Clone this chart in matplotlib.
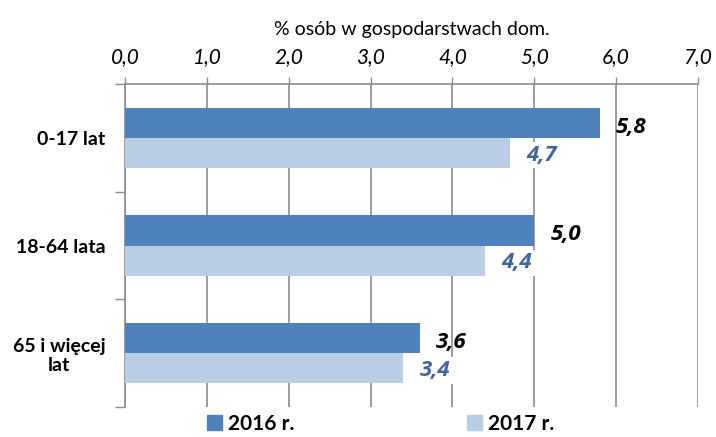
import numpy as np
import matplotlib.pyplot as plt
from matplotlib.patches import Patch
from matplotlib.font_manager import FontProperties

plt.rcParams['font.family'] = ['Lato', 'DejaVu Sans']

# Data
categories = ['0-17 lat', '18-64 lata', '65 i więcej\nlat']
series_names = ['2016 r.', '2017 r.']
values_2016 = [5.8, 5.0, 3.6]
values_2017 = [4.7, 4.4, 3.4]
xticks = [0, 1, 2, 3, 4, 5, 6, 7]

c2016 = '#4F81BD'
c2017 = '#B9CDE5'
grid_c = '#8C8C8C'
lab_font = ['Open Sans', 'DejaVu Sans']

fig = plt.figure(figsize=(7.16, 4.37), dpi=100)
ax = fig.add_axes([0.1746, 0.0686, 0.8003, 0.7392])

y = np.arange(len(categories))
h = 0.279
ax.barh(y - h / 2, values_2016, height=h, color=c2016, zorder=3)
ax.barh(y + h / 2, values_2017, height=h, color=c2017, zorder=3)

for yi, v in zip(y, values_2016):
    ax.text(v + 0.2, yi - h / 2 + 0.04, f'{v:.1f}'.replace('.', ','), ha='left', va='center',
            fontsize=16, fontweight='bold', style='italic', color='black', zorder=5,
            family=lab_font)
for yi, v in zip(y, values_2017):
    ax.text(v + 0.2, yi + h / 2 + 0.02, f'{v:.1f}'.replace('.', ','), ha='left', va='center',
            fontsize=16, fontweight='bold', style='italic', color='#41679F', zorder=4,
            family=lab_font, bbox=dict(facecolor='white', edgecolor='none', pad=2))

ax.set_xlim(0, 7)
ax.set_ylim(2.5, -0.5)
ax.xaxis.tick_top()
ax.xaxis.set_label_position('top')
ax.set_xticks(xticks)
ax.set_xticklabels([f'{t:.1f}'.replace('.', ',') for t in xticks], fontsize=15, style='italic')
ax.set_xlabel('% osób w gospodarstwach dom.', fontsize=14, labelpad=9)
ax.tick_params(axis='x', length=5, width=1, color=grid_c, pad=7)

ax.set_yticks(y)
ax.set_yticklabels(categories, fontsize=14, fontweight='bold', multialignment='center')
ax.set_yticks([-0.5, 0.5, 1.5, 2.5], minor=True)
ax.tick_params(axis='y', which='major', length=0, pad=14)
ax.tick_params(axis='y', which='minor', length=7, width=1, color=grid_c)

ax.grid(axis='x', color=grid_c, linewidth=1.2, zorder=0)
for s in ['right', 'bottom']:
    ax.spines[s].set_visible(False)
for s in ['top', 'left']:
    ax.spines[s].set_color(grid_c)
    ax.spines[s].set_linewidth(1.2)

handles = [Patch(color=c2016), Patch(color=c2017)]
leg_font = FontProperties(family=['Lato', 'DejaVu Sans'], weight='bold', size=15)
fig.legend(handles, series_names, loc='center', bbox_to_anchor=(0.532, 0.03), ncol=2,
           frameon=False, columnspacing=8.3, handlelength=0.7, handleheight=0.7,
           handletextpad=0.3, borderpad=0, prop=leg_font)

fig.savefig('out.png', dpi=100)
